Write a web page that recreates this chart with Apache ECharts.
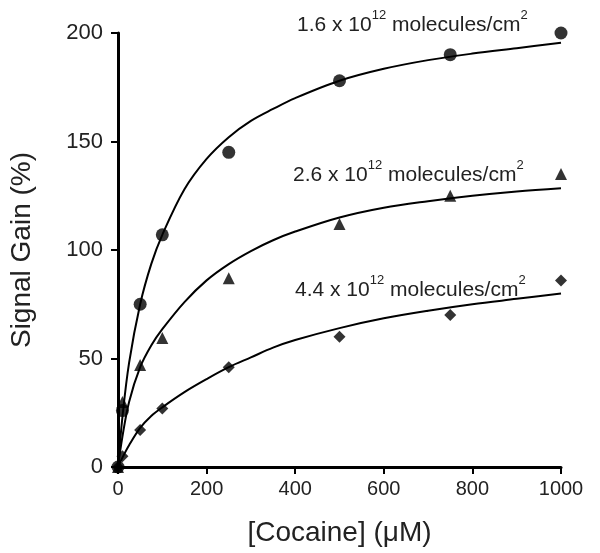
<!DOCTYPE html>
<html>
<head>
<meta charset="utf-8">
<script src="https://cdn.jsdelivr.net/npm/echarts@6/dist/echarts.min.js"></script>
<style>
  html, body { margin: 0; padding: 0; background: #fff; }
  #chart { width: 600px; height: 553px; }
</style>
</head>
<body>
<div id="chart"></div>
<script>
// measured points (x = cocaine uM)
var concPts = [0, 10, 50, 100, 250, 500, 750, 1000]
var gainLow = [0, 26, 75, 107, 145, 178, 190, 200]     // 1.6e12, circles
var gainMid = [0, 30, 47, 59.5, 87, 112, 125, 135]     // 2.6e12, triangles
var gainHigh = [0, 5, 17, 27, 46, 60, 70, 86]          // 4.4e12, diamonds

// fitted curves
var concFit = [0, 10, 25, 50, 75, 100, 150, 200, 250, 300, 350, 400, 500, 600, 700, 800, 900, 1000]
var fitLow = [0, 23, 48, 75, 93.5, 107, 128, 142, 152, 159.5, 165, 170, 178, 183.5, 187.5, 190.5, 193, 195.5]
var fitMid = [0, 14, 30, 46, 56, 63.5, 76, 86, 93.5, 99.5, 104.5, 108.5, 115, 119.5, 122.5, 125, 127, 128.5]
var fitHigh = [0, 4.3, 10, 18, 23.5, 27.5, 34.5, 40.5, 46, 50.5, 55, 58.5, 64, 68.5, 72, 75, 77.5, 80]

var xTicks = [0, 200, 400, 600, 800, 1000]
var yTicks = [0, 50, 100, 150, 200]

var labelTexts = ['1.6 x 10', '2.6 x 10', '4.4 x 10']

function pairs (xs, ys) {
  return xs.map(function (x, i) { return [x, ys[i]] })
}

var font = 'Liberation Sans, Arial, sans-serif'

function curve (ys) {
  return {
    type: 'line',
    data: pairs(concFit, ys),
    smooth: 0.35,
    showSymbol: false,
    silent: true,
    lineStyle: { color: '#000', width: 2 },
    z: 2
  }
}

function dots (ys, symbol, size) {
  return {
    type: 'scatter',
    data: pairs(concPts, ys),
    symbol: symbol,
    symbolSize: size,
    itemStyle: { color: '#000' },
    z: 3
  }
}

function note (txt, left, top) {
  return {
    type: 'text',
    left: left,
    top: top,
    style: {
      text: '{n|' + txt + '}{s|12}{n| molecules/cm}{s|2}',
      rich: {
        n: { fontSize: 21, fontFamily: font, fill: '#222', lineHeight: 27, verticalAlign: 'bottom' },
        s: { fontSize: 13, fontFamily: font, fill: '#222', verticalAlign: 'top' }
      }
    }
  }
}

var chart = echarts.init(document.getElementById('chart'))
chart.setOption({
  animation: false,
  grid: { left: 118, right: 39, top: 33, bottom: 86, containLabel: false, outerBoundsMode: 'none' },
  xAxis: {
    type: 'value',
    min: xTicks[0],
    max: xTicks[xTicks.length - 1],
    interval: 200,
    name: '[Cocaine] (μM)',
    nameLocation: 'middle',
    nameGap: 52,
    nameTextStyle: { fontSize: 28, fontFamily: font, color: '#222' },
    axisLine: { lineStyle: { color: '#000', width: 3 } },
    axisTick: { length: 7, lineStyle: { color: '#000', width: 2 } },
    axisLabel: {
      fontSize: 20, fontFamily: font, color: '#222', margin: 12,
      formatter: function (v) { return String(v) }
    },
    splitLine: { show: false }
  },
  yAxis: {
    type: 'value',
    min: yTicks[0],
    max: yTicks[yTicks.length - 1],
    interval: 50,
    name: 'Signal Gain (%)',
    nameLocation: 'middle',
    nameGap: 82,
    nameTextStyle: { fontSize: 28, fontFamily: font, color: '#222' },
    axisLine: { lineStyle: { color: '#000', width: 3 } },
    axisTick: { length: 7, lineStyle: { color: '#000', width: 2 } },
    axisLabel: { fontSize: 22, fontFamily: font, color: '#222', margin: 15 },
    splitLine: { show: false }
  },
  graphic: [
    note(labelTexts[0], 297, 9),
    note(labelTexts[1], 293, 159),
    note(labelTexts[2], 295, 274)
  ],
  series: [
    curve(fitLow),
    curve(fitMid),
    curve(fitHigh),
    dots(gainLow, 'circle', 13),
    dots(gainMid, 'triangle', 12),
    dots(gainHigh, 'diamond', 12)
  ]
})
</script>
</body>
</html>
